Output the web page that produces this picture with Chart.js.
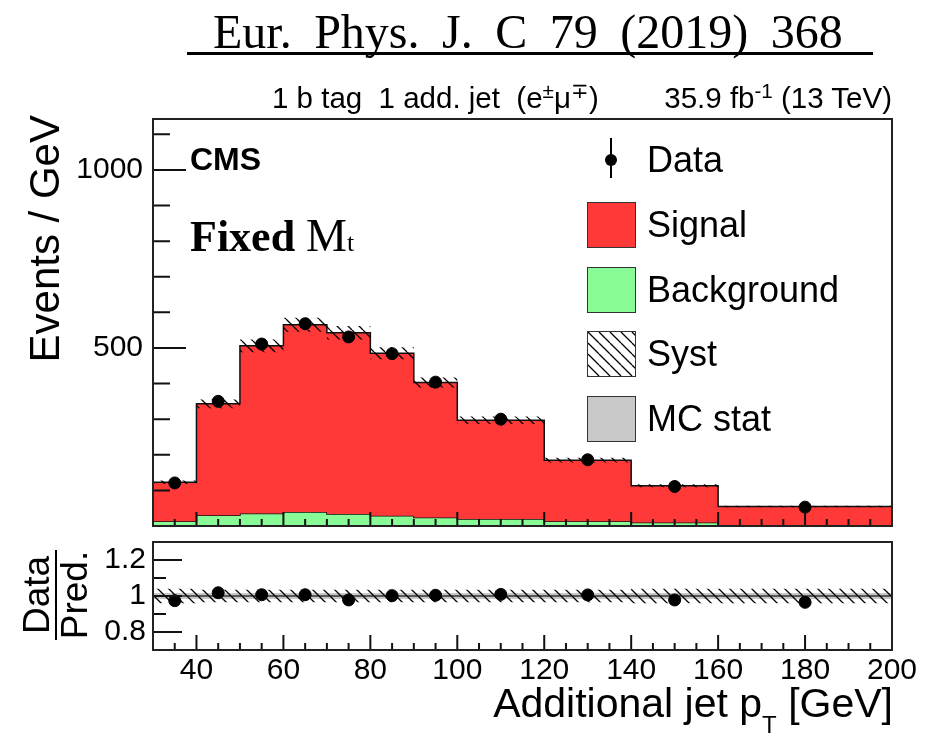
<!DOCTYPE html>
<html>
<head>
<meta charset="utf-8">
<script src="https://cdn.jsdelivr.net/npm/chart.js@4/dist/chart.umd.min.js"></script>
<style>
html,body{margin:0;padding:0;background:#fff;}
#wrap{position:relative;width:925px;height:736px;overflow:hidden;font-family:"Liberation Sans",Arial,Helvetica,sans-serif;color:#000;background:#fff;}
canvas{position:absolute;left:0;}
#c1{top:0;width:925px;height:560px;}
#c2{top:530px;width:925px;height:206px;}
.t{position:absolute;white-space:nowrap;line-height:1;}
.box{position:absolute;left:587px;width:47px;height:44px;border:1px solid #333;}
.lt{position:absolute;left:647px;font-size:36px;line-height:1;white-space:nowrap;}
sup{font-size:0.7em;vertical-align:0;position:relative;top:-0.5em;line-height:0;}
</style>
</head>
<body>
<div id="wrap">
  <canvas id="c1" width="925" height="560"></canvas>
  <canvas id="c2" width="925" height="206"></canvas>

  <!-- journal header -->
  <div class="t" style="left:213px;top:8px;font-family:'Liberation Serif','Times New Roman',serif;font-size:48px;word-spacing:10.5px;">Eur. Phys. J. C 79 (2019) 368</div>
  <div style="position:absolute;left:187px;top:52px;width:686px;height:3px;background:#000;"></div>

  <!-- top annotations -->
  <div class="t" style="left:272px;top:83px;font-size:29.5px;">1 b tag&nbsp; 1 add. jet&nbsp; (e<sup>±</sup>μ<sup>∓</sup>)</div>
  <div class="t" style="right:33px;top:83px;font-size:29.5px;">35.9 fb<sup>-1</sup> (13 TeV)</div>
  <div class="t" style="left:190px;top:143px;font-size:32px;font-weight:bold;">CMS</div>
  <div class="t" style="left:190px;top:213px;font-family:'Liberation Serif','Times New Roman',serif;font-size:44px;"><b>Fixed</b> <span style="font-size:46px;">M</span><span style="font-size:26px;">t</span></div>

  <!-- legend -->
  <div style="position:absolute;left:610px;top:138px;width:2px;height:40px;background:#000;"></div>
  <div style="position:absolute;left:605px;top:154px;width:12px;height:12px;border-radius:50%;background:#000;"></div>
  <div class="lt" style="top:142px;">Data</div>
  <div class="box" style="top:202px;background:rgb(255,56,56);"></div>
  <div class="lt" style="top:207px;">Signal</div>
  <div class="box" style="top:267px;background:rgb(136,251,150);"></div>
  <div class="lt" style="top:272px;">Background</div>
  <canvas id="systSwatch" width="47" height="44" class="box" style="top:331px;left:587px;"></canvas>
  <div class="lt" style="top:336px;">Syst</div>
  <div class="box" style="top:396px;background:rgb(200,200,200);"></div>
  <div class="lt" style="top:401px;">MC stat</div>

  <!-- axis titles -->
  <div class="t" style="left:24px;top:415px;width:300px;text-align:right;font-size:42px;transform-origin:left top;transform:rotate(-90deg);">Events / GeV</div>
  <div style="position:absolute;left:11px;top:558px;width:90px;text-align:center;font-size:37px;line-height:36px;transform-origin:center center;transform:rotate(-90deg);">
    <div style="border-bottom:2px solid #000;">Data</div>
    <div>Pred.</div>
  </div>
  <div class="t" style="right:32px;top:683px;font-size:41px;">Additional jet p<span style="font-size:24px;position:relative;top:16px;">T</span> [GeV]</div>
</div>

<script>
// ---- values ----
const binEdges = [30, 40, 50, 60, 70, 80, 90, 100, 120, 140, 160, 200];
const dataEvents = [121, 350, 511, 568, 531, 484, 404, 300, 186, 111, 53];
const signalEvents = [110, 313, 471, 526, 509, 456, 379, 277, 172, 103, 52];
const backgroundEvents = [13, 30, 35, 39, 34, 29, 24, 20, 13, 10, 3];
const systRelative = [0.04, 0.035, 0.035, 0.035, 0.035, 0.035, 0.035, 0.035, 0.035, 0.04, 0.04];
const mcStatRelative = [0.017, 0.017, 0.017, 0.017, 0.017, 0.017, 0.017, 0.017, 0.017, 0.017, 0.017];
const ratioValues = [0.974, 1.018, 1.007, 1.007, 0.978, 1.002, 1.004, 1.009, 1.006, 0.978, 0.965];
const ratioUnity = [1, 1, 1, 1, 1, 1, 1, 1, 1, 1, 1];
const topYLabels = [500, 1000];
const ratioYLabels = [0.8, 1, 1.2];

// ---- helpers ----
const binCenters = binEdges.slice(0, -1).map((e, i) => (e + binEdges[i + 1]) / 2);
const totalEvents = signalEvents.map((s, i) => s + backgroundEvents[i]);
function steps(vals) {
  return binEdges.map((e, i) => ({ x: e, y: vals[Math.min(i, vals.length - 1)] }));
}
function makeHatch() {
  const s = 11;
  const c = document.createElement('canvas');
  c.width = s; c.height = s;
  const g = c.getContext('2d');
  g.strokeStyle = '#000';
  g.lineWidth = 1.3;
  g.beginPath();
  for (const o of [-s, 0, s]) { g.moveTo(o, 0); g.lineTo(o + s, s); }
  g.stroke();
  return c;
}
const hatchCanvas = makeHatch();
const hatchTop = document.getElementById('c1').getContext('2d').createPattern(hatchCanvas, 'repeat');
const hatchBot = document.getElementById('c2').getContext('2d').createPattern(hatchCanvas, 'repeat');
(function () {
  const sw = document.getElementById('systSwatch');
  const g = sw.getContext('2d');
  g.fillStyle = g.createPattern(hatchCanvas, 'repeat');
  g.fillRect(0, 0, sw.width, sw.height);
})();

const RED = 'rgb(255,56,56)';
const GREEN = 'rgb(136,251,150)';
const GRAY = 'rgb(200,200,200)';
const FONT = "'Liberation Sans', Arial, Helvetica, sans-serif";

const rootAxes = {
  id: 'rootAxes',
  afterDatasetsDraw(chart, args, o) {
    const { ctx, chartArea: a, scales: { x, y } } = chart;
    ctx.save();
    ctx.strokeStyle = '#111';
    ctx.lineWidth = 2;
    ctx.beginPath();
    const eps = 1e-6;
    for (let k = Math.ceil(x.min / o.xMinor - eps); k * o.xMinor <= x.max + eps; k++) {
      const v = k * o.xMinor;
      const major = Math.abs(v / o.xMajor - Math.round(v / o.xMajor)) < eps;
      const px = x.getPixelForValue(v);
      ctx.moveTo(px, a.bottom);
      ctx.lineTo(px, a.bottom - (major ? o.xMajLen : o.xMinLen));
    }
    for (let k = Math.ceil(y.min / o.yMinor - eps); k * o.yMinor <= y.max + eps; k++) {
      const v = k * o.yMinor;
      const major = Math.abs(v / o.yMajor - Math.round(v / o.yMajor)) < eps;
      const py = y.getPixelForValue(v);
      ctx.moveTo(a.left, py);
      ctx.lineTo(a.left + (major ? o.yMajLen : o.yMinLen), py);
    }
    ctx.stroke();
    ctx.strokeStyle = '#222';
    ctx.lineWidth = 2;
    ctx.strokeRect(a.left, a.top, a.right - a.left, a.bottom - a.top);
    ctx.restore();
  }
};

const common = {
  responsive: false,
  animation: false,
  devicePixelRatio: 1,
  events: [],
  plugins: { legend: { display: false }, tooltip: { enabled: false }, title: { display: false } }
};
function fitY(s) { s.width = 153; s.paddingTop = 0; s.paddingBottom = 0; }
function fitX(h) { return s => { s.height = h; s.paddingLeft = 0; s.paddingRight = 0; }; }

// ---- top panel ----
new Chart(document.getElementById('c1'), {
  type: 'line',
  data: {
    datasets: [
      { label: 'Data', data: binCenters.map((c, i) => ({ x: c, y: dataEvents[i] })), showLine: false,
        pointRadius: 6, pointBackgroundColor: '#000', pointBorderColor: '#000', order: 0 },
      { label: 'Syst up', data: steps(totalEvents.map((t, i) => t * (1 + systRelative[i]))), stepped: true,
        borderWidth: 0, pointRadius: 0, fill: '+1', backgroundColor: hatchTop, order: 1 },
      { label: 'Syst down', data: steps(totalEvents.map((t, i) => t * (1 - systRelative[i]))), stepped: true,
        borderWidth: 0, pointRadius: 0, fill: false, order: 1 },
      { label: 'Signal', data: steps(totalEvents), stepped: true, borderColor: '#111', borderWidth: 1.5,
        pointRadius: 0, fill: '+1', backgroundColor: RED, order: 2 },
      { label: 'Background', data: steps(backgroundEvents), stepped: true, borderColor: '#111', borderWidth: 1.5,
        pointRadius: 0, fill: 'origin', backgroundColor: GREEN, order: 3 }
    ]
  },
  options: Object.assign({}, common, {
    layout: { padding: { left: 0, right: 33, top: 119, bottom: 14 } },
    scales: {
      x: { type: 'linear', min: 30, max: 200, grid: { display: false }, border: { display: false },
           ticks: { display: false }, afterFit: fitX(20) },
      y: { type: 'linear', min: 0, max: 1143, grid: { display: false, drawTicks: false }, border: { display: false },
           afterFit: fitY,
           ticks: { stepSize: 100, includeBounds: false, autoSkip: false, padding: 10, color: '#000', font: { family: FONT, size: 30 },
                    callback: v => topYLabels.includes(v) ? String(v) : '' } }
    },
    plugins: Object.assign({}, common.plugins, {
      rootAxes: { xMinor: 5, xMajor: 20, xMajLen: 14, xMinLen: 7, yMinor: 100, yMajor: 500, yMajLen: 33, yMinLen: 17 }
    })
  }),
  plugins: [rootAxes]
});

// ---- ratio panel ----
new Chart(document.getElementById('c2'), {
  type: 'line',
  data: {
    datasets: [
      { label: 'Data/Pred.', data: binCenters.map((c, i) => ({ x: c, y: ratioValues[i] })), showLine: false,
        pointRadius: 6, pointBackgroundColor: '#000', pointBorderColor: '#000', order: 0 },
      { label: 'Syst up', data: steps(systRelative.map(s => 1 + s)), stepped: true, borderWidth: 0, pointRadius: 0,
        fill: '+1', backgroundColor: hatchBot, order: 1 },
      { label: 'Syst down', data: steps(systRelative.map(s => 1 - s)), stepped: true, borderWidth: 0, pointRadius: 0,
        fill: false, order: 1 },
      { label: 'Unity', data: steps(ratioUnity), stepped: true, borderColor: '#333', borderWidth: 1.5, pointRadius: 0,
        fill: false, order: 2 },
      { label: 'MC stat up', data: steps(mcStatRelative.map(s => 1 + s)), stepped: true, borderWidth: 0, pointRadius: 0,
        fill: '+1', backgroundColor: GRAY, order: 3 },
      { label: 'MC stat down', data: steps(mcStatRelative.map(s => 1 - s)), stepped: true, borderWidth: 0, pointRadius: 0,
        fill: false, order: 3 }
    ]
  },
  options: Object.assign({}, common, {
    layout: { padding: { left: 0, right: 33, top: 12, bottom: 36 } },
    scales: {
      x: { type: 'linear', min: 30, max: 200, grid: { display: false, drawTicks: false }, border: { display: false },
           afterFit: fitX(50),
           ticks: { stepSize: 20, includeBounds: false, autoSkip: false, maxRotation: 0, padding: 3, color: '#000', font: { family: FONT, size: 30 },
                    callback: v => (v % 20 === 0 ? String(v) : '') } },
      y: { type: 'linear', min: 0.7, max: 1.3, grid: { display: false, drawTicks: false }, border: { display: false },
           afterFit: fitY,
           ticks: { stepSize: 0.1, includeBounds: false, autoSkip: false, padding: 7, color: '#000', font: { family: FONT, size: 30 },
                    callback: v => {
                      const hit = ratioYLabels.find(l => Math.abs(l - v) < 1e-6);
                      return hit === undefined ? '' : String(hit);
                    } } }
    },
    plugins: Object.assign({}, common.plugins, {
      rootAxes: { xMinor: 5, xMajor: 20, xMajLen: 15, xMinLen: 7, yMinor: 0.1, yMajor: 0.2, yMajLen: 29, yMinLen: 13 }
    })
  }),
  plugins: [rootAxes]
});
</script>
</body>
</html>
